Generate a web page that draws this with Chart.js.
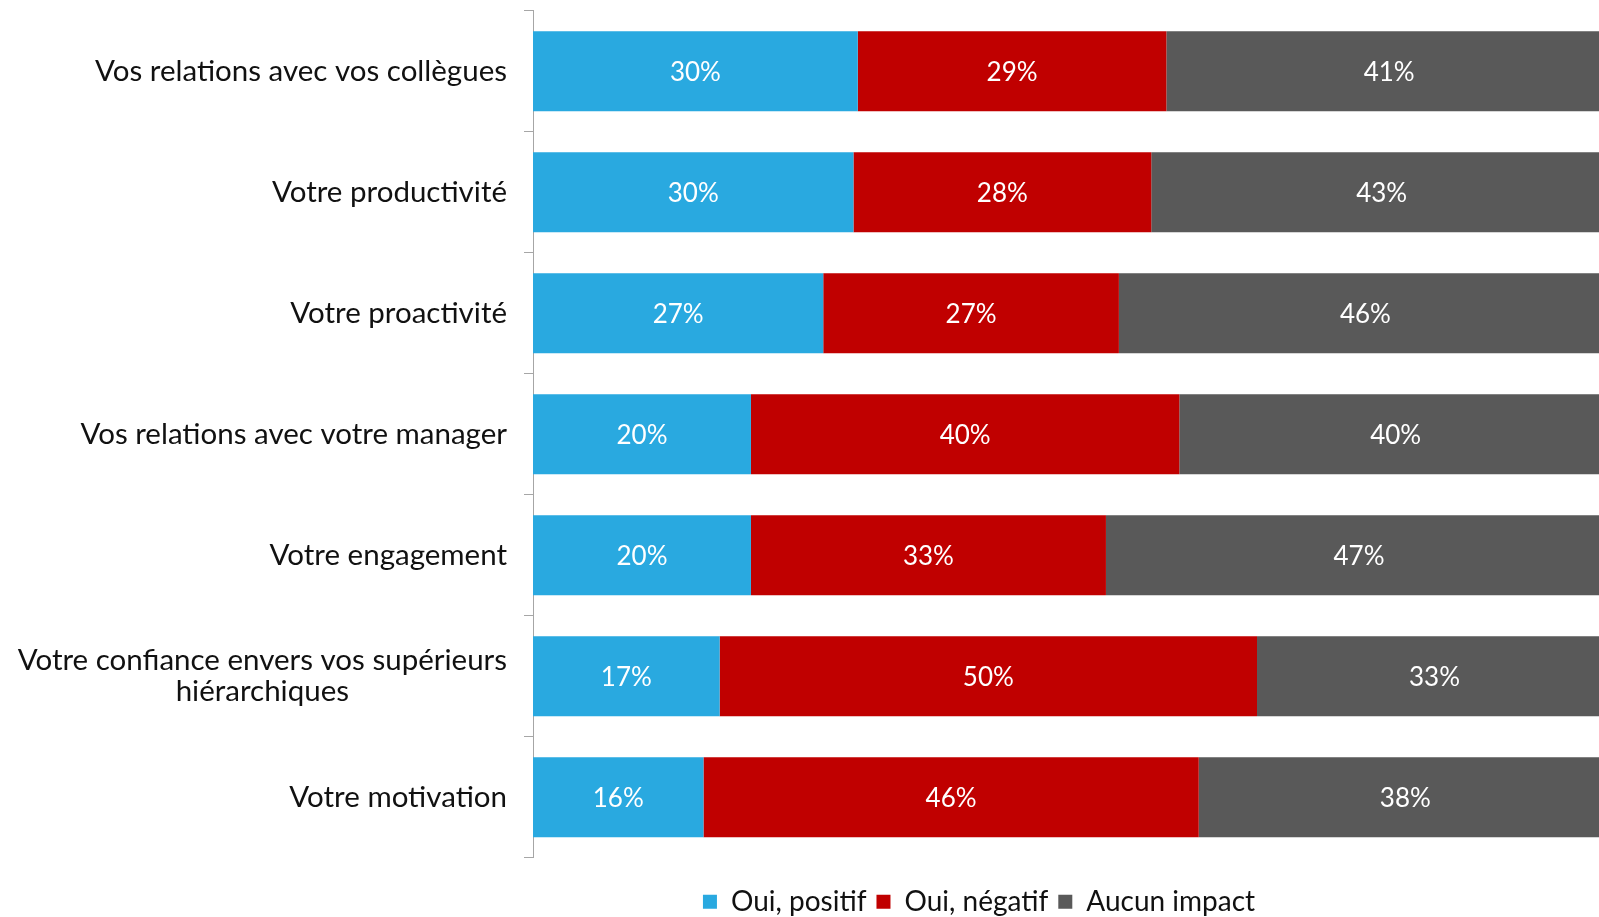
<!DOCTYPE html>
<html>
<head>
<meta charset="utf-8">
<script src="https://cdn.jsdelivr.net/npm/chart.js@4.4.0/dist/chart.umd.min.js"></script>
<style>
  html, body { margin: 0; padding: 0; background: #fff; overflow: hidden; }
  #wrap { width: 1612px; height: 917px; }
</style>
</head>
<body>
<div id="wrap"><canvas id="chart" width="1612" height="917"></canvas></div>
<script>
// catégories (axe vertical, de haut en bas)
const categories = [
  'Vos relations avec vos collègues',
  'Votre productivité',
  'Votre proactivité',
  'Vos relations avec votre manager',
  'Votre engagement',
  ['Votre confiance envers vos supérieurs', 'hiérarchiques'],
  'Votre motivation'
];

// parts en %
const ouiPositif = [30.1, 29.7, 26.9, 20.2, 20.2, 17.3, 15.8];
const ouiNegatif = [28.6, 27.6, 27.4, 39.7, 32.9, 49.8, 45.9];
const aucunImpact = [41.3, 42.7, 45.7, 40.1, 46.9, 32.9, 38.3];

const seriesNames = ['Oui, positif', 'Oui, négatif', 'Aucun impact'];
const seriesColors = ['#29A9E0', '#C00000', '#595959'];

const FONT = 'Lato, "Open Sans", sans-serif';

// étiquettes blanches au centre des barres
const barLabels = {
  id: 'barLabels',
  afterDatasetsDraw(chart) {
    const ctx = chart.ctx;
    ctx.save();
    ctx.font = '26px ' + FONT;
    ctx.fillStyle = '#ffffff';
    ctx.textAlign = 'center';
    ctx.textBaseline = 'middle';
    chart.data.datasets.forEach((ds, i) => {
      chart.getDatasetMeta(i).data.forEach((bar, j) => {
        const x = (bar.x + bar.base) / 2;
        ctx.fillText(Math.round(ds.data[j]) + '%', x, bar.y + 1);
      });
    });
    ctx.restore();
  }
};

// libellés de l'axe y (2e ligne centrée sous la 1re)
const yLabels = {
  id: 'yLabels',
  afterDraw(chart) {
    const ctx = chart.ctx;
    const y = chart.scales.y;
    const right = y.right - 26;
    const lh = 31.5;
    ctx.save();
    ctx.font = '29.5px ' + FONT;
    ctx.fillStyle = '#111111';
    ctx.textBaseline = 'middle';
    categories.forEach((c, i) => {
      const py = y.getPixelForValue(i);
      const lines = Array.isArray(c) ? c : [c];
      const w = Math.max(...lines.map(l => ctx.measureText(l).width));
      ctx.textAlign = 'center';
      lines.forEach((l, k) => {
        ctx.fillText(l, right - w / 2, py + (k - (lines.length - 1) / 2) * lh);
      });
    });
    ctx.restore();
  }
};

// décale la légende comme sur l'original
const legendShift = {
  id: 'legendShift',
  afterLayout(chart) {
    const lg = chart.legend;
    const dx = 979 - (lg.left + lg.right) / 2;
    lg.left += dx; lg.right += dx;
    lg.top += 20; lg.bottom += 20;
  }
};

new Chart(document.getElementById('chart'), {
  type: 'bar',
  data: {
    labels: categories,
    datasets: [ouiPositif, ouiNegatif, aucunImpact].map((d, i) => ({
      label: seriesNames[i],
      data: d,
      backgroundColor: seriesColors[i],
      borderWidth: 0,
      barPercentage: 1,
      categoryPercentage: 0.661
    }))
  },
  options: {
    indexAxis: 'y',
    responsive: false,
    animation: false,
    devicePixelRatio: 1,
    layout: { padding: { top: 10.7, left: 0, right: 0, bottom: 11.3 } },
    scales: {
      x: { display: false, stacked: true, min: 0, max: 100 },
      y: {
        stacked: true,
        afterFit(s) { s.width = 533; },
        ticks: { display: false },
        grid: { drawOnChartArea: false, drawTicks: true, tickLength: 9, color: '#A6A6A6', lineWidth: 1 },
        border: { display: true, color: '#A6A6A6', width: 1 }
      }
    },
    plugins: {
      tooltip: { enabled: false },
      legend: {
        position: 'bottom',
        labels: {
          font: { family: FONT, size: 28 },
          color: '#111111',
          boxWidth: 14,
          boxHeight: 14,
          padding: 10
        }
      }
    }
  },
  plugins: [barLabels, yLabels, legendShift]
});
</script>
</body>
</html>
